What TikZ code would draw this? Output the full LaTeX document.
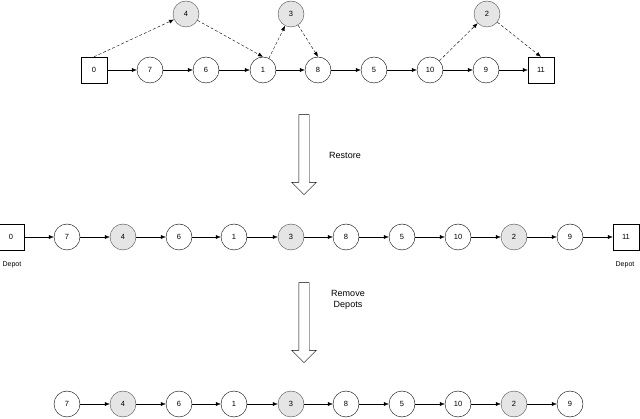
\documentclass[tikz,border=0pt]{standalone}
\usepackage{fontspec}
\setmainfont{Liberation Sans}
\usetikzlibrary{shapes.arrows,arrows.meta}
\begin{document}
\begin{tikzpicture}[x=1pt,y=-1pt,
 c/.style={circle,draw,minimum size=26pt,inner sep=0pt,font=\fontsize{7.5}{8}\selectfont,fill=white},
 g/.style={c,fill=black!10,draw=black!70},
 sq/.style={rectangle,draw,minimum size=26pt,inner sep=0pt,font=\fontsize{7.5}{8}\selectfont},
 e/.style={-{Latex[length=5pt,width=4pt]},thin},
 d/.style={e,densely dashed},
 big/.style={single arrow,draw,fill=white,inner sep=5pt,single arrow head extend=7pt,shape border rotate=270,single arrow tip angle=90},
 lab/.style={font=\fontsize{9}{11}\selectfont,align=center}]
\useasboundingbox (0,0) rectangle (640,419);
% row 1
\node[sq] (a0) at (94,70) {0};
\node[c] (a7) at (150,70) {7};
\node[c] (a6) at (206,70) {6};
\node[c] (a1) at (263,70) {1};
\node[c] (a8) at (318,70) {8};
\node[c] (a5) at (374,70) {5};
\node[c] (a10) at (430,70) {10};
\node[c] (a9) at (486,70) {9};
\node[sq] (a11) at (541,70) {11};
\node[g] (a4) at (186,14) {4};
\node[g] (a3) at (291,14) {3};
\node[g] (a2) at (487,14) {2};
\foreach \u/\v in {a0/a7,a7/a6,a6/a1,a1/a8,a8/a5,a5/a10,a10/a9,a9/a11} \draw[e] (\u)--(\v);
\draw[d] (a0.north)--(a4);
\draw[d] (a4)--(a1.north);
\draw[d] (a1)--(a3);
\draw[d] (a3)--(a8.north);
\draw[d] (a10)--(a2);
\draw[d] (a2)--(a11.north);
% arrow 1
\node[big,minimum height=80pt] (r1) at (304,152) {};
\node[lab] (t1) at (345,155) {Restore};
% row 2
\node[sq] (b0) at (11,237) {0};
\node[c] (b7) at (67,237) {7};
\node[g] (b4) at (123,237) {4};
\node[c] (b6) at (179,237) {6};
\node[c] (b1) at (234,237) {1};
\node[g] (b3) at (291,237) {3};
\node[c] (b8) at (346,237) {8};
\node[c] (b5) at (402,237) {5};
\node[c] (b10) at (458,237) {10};
\node[g] (b2) at (514,237) {2};
\node[c] (b9) at (570,237) {9};
\node[sq] (b11) at (626,237) {11};
\node[font=\fontsize{7}{8}\selectfont] (dl) at (12,265) {Depot};
\node[font=\fontsize{7}{8}\selectfont] (dr) at (625,265) {Depot};
\foreach \u/\v in {b0/b7,b7/b4,b4/b6,b6/b1,b1/b3,b3/b8,b8/b5,b5/b10,b10/b2,b2/b9,b9/b11} \draw[e] (\u)--(\v);
% arrow 2
\node[big,minimum height=80pt] (r2) at (304,320) {};
\node[lab] (t2) at (348,300) {Remove\\Depots};
% row 3
\node[c] (c7) at (67,404) {7};
\node[g] (c4) at (123,404) {4};
\node[c] (c6) at (179,404) {6};
\node[c] (c1) at (234,404) {1};
\node[g] (c3) at (291,404) {3};
\node[c] (c8) at (346,404) {8};
\node[c] (c5) at (402,404) {5};
\node[c] (c10) at (458,404) {10};
\node[g] (c2) at (514,404) {2};
\node[c] (c9) at (570,404) {9};
\foreach \u/\v in {c7/c4,c4/c6,c6/c1,c1/c3,c3/c8,c8/c5,c5/c10,c10/c2,c2/c9} \draw[e] (\u)--(\v);
\end{tikzpicture}
\end{document}
